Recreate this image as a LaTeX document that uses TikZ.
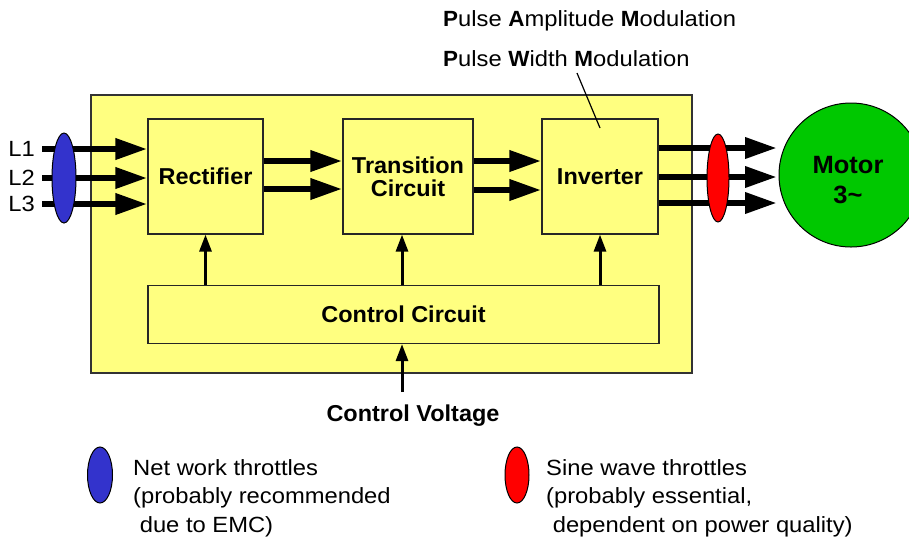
\documentclass[tikz,border=0pt]{standalone}
\usepackage{fontspec}
\setmainfont{Liberation Sans}[FakeStretch=1.08, BoldFeatures={FakeStretch=1.02}]
\usetikzlibrary{arrows.meta,shapes.geometric}
\definecolor{boxyellow}{HTML}{FFFF80}
\definecolor{thrblue}{HTML}{3333CC}
\definecolor{thrred}{HTML}{FF0000}
\definecolor{motgreen}{HTML}{00C800}
\tikzset{
  outerbox/.style={draw=black!80, line width=1.2pt, fill=boxyellow, minimum width=601pt, minimum height=278pt, inner sep=0pt},
  blockbox/.style={draw=black!85, line width=1.2pt, fill=boxyellow, minimum height=115pt, inner sep=0pt, font=\fontsize{23}{24}\selectfont\bfseries, align=center},
  bigarrow/.style={line width=6.5pt, -{Triangle[length=32pt,width=20pt]}},
  smallarrow/.style={line width=3pt, -{Triangle[length=17pt,width=12pt]}},
  throttle/.style={ellipse, draw=black, line width=1pt, inner sep=0pt},
  regtext/.style={font=\fontsize{22}{28.5}\selectfont, inner sep=0pt},
  boldtext/.style={font=\fontsize{23}{24}\selectfont\bfseries, inner sep=0pt}
}
\begin{document}
\begin{tikzpicture}[x=1pt,y=-1pt]
\useasboundingbox (0,0) rectangle (909,539);
\clip (0,0) rectangle (909,539);
% outer box
\node[outerbox] (outer) at (391.5,234) {};
% blocks
\node[blockbox, minimum width=115pt] (rect) at (205.5,176.5) {Rectifier};
\node[blockbox, minimum width=130pt] (trans) at (408,176.5) {Transition\\[-1pt]Circuit};
\node[blockbox, minimum width=116pt] (inv) at (600,176.5) {Inverter};
\node[blockbox, minimum width=511pt, minimum height=58pt] (ctrl) at (403.5,314.5) {Control Circuit};
% motor
\node[circle, draw=black, line width=1pt, fill=motgreen, minimum size=144pt, inner sep=0pt] (motor) at (851,175) {};
\node[font=\fontsize{25}{30}\selectfont\bfseries, align=center, inner sep=0pt] (motortxt) at (848,180) {Motor\\3\char"007E};
% input lines
\coordinate (in1) at (42,149);
\coordinate (in2) at (42,178);
\coordinate (in3) at (42,204);
\node[regtext, anchor=east] (L1) at (35,149) {L1};
\node[regtext, anchor=east] (L2) at (35,178) {L2};
\node[regtext, anchor=east] (L3) at (35,204) {L3};
\draw[bigarrow] (in1) -- (rect.west |- in1);
\draw[bigarrow] (in2) -- (rect.west |- in2);
\draw[bigarrow] (in3) -- (rect.west |- in3);
% rectifier -> transition
\coordinate (rt1) at (263,161);
\coordinate (rt2) at (263,189);
\draw[bigarrow] (rect.east |- rt1) -- (trans.west |- rt1);
\draw[bigarrow] (rect.east |- rt2) -- (trans.west |- rt2);
% transition -> inverter
\coordinate (ti1) at (473,161);
\coordinate (ti2) at (473,190);
\draw[bigarrow] (trans.east |- ti1) -- (inv.west |- ti1);
\draw[bigarrow] (trans.east |- ti2) -- (inv.west |- ti2);
% inverter -> motor
\coordinate (o1) at (777,148);
\coordinate (o2) at (777,177);
\coordinate (o3) at (777,203);
\draw[bigarrow] (inv.east |- o1) -- (o1);
\draw[bigarrow] (inv.east |- o2) -- (o2);
\draw[bigarrow] (inv.east |- o3) -- (o3);
% throttles
\node[throttle, fill=thrblue, minimum width=24pt, minimum height=90pt] (thin) at (64,178) {};
\node[throttle, fill=thrred, minimum width=22pt, minimum height=88pt] (thout) at (718,178) {};
% control arrows
\draw[smallarrow] (rect.south |- ctrl.north) -- (rect.south);
\draw[smallarrow] (402,285) coordinate (ct) -- (ct |- trans.south);
\draw[smallarrow] (inv.south |- ctrl.north) -- (inv.south);
\coordinate (cv) at (402,392);
\draw[smallarrow] (cv) -- (cv |- ctrl.south);
\node[boldtext] (cvtxt) at (413,415.5) {Control Voltage};
% modulation labels
\node[regtext, anchor=west] (pam) at (443,21) {\textbf{P}ulse \textbf{A}mplitude \textbf{M}odulation};
\node[regtext, anchor=west] (pwm) at (443,58.5) {\textbf{P}ulse \textbf{W}idth \textbf{M}odulation};
\coordinate (pwmend) at (600,128);
\draw[line width=1.2pt] (577,73) -- (pwmend);
% legend
\node[throttle, fill=thrblue, minimum width=25pt, minimum height=56pt] (legblue) at (100,475) {};
\node[regtext, anchor=north west, align=left] (legbluetxt) at (133,459) {Net work throttles\\(probably recommended\\\ due to EMC)};
\node[throttle, fill=thrred, minimum width=24pt, minimum height=56pt] (legred) at (517,475) {};
\node[regtext, anchor=north west, align=left] (legredtxt) at (546,459) {Sine wave throttles\\(probably essential,\\\ dependent on power quality)};
\end{tikzpicture}
\end{document}
